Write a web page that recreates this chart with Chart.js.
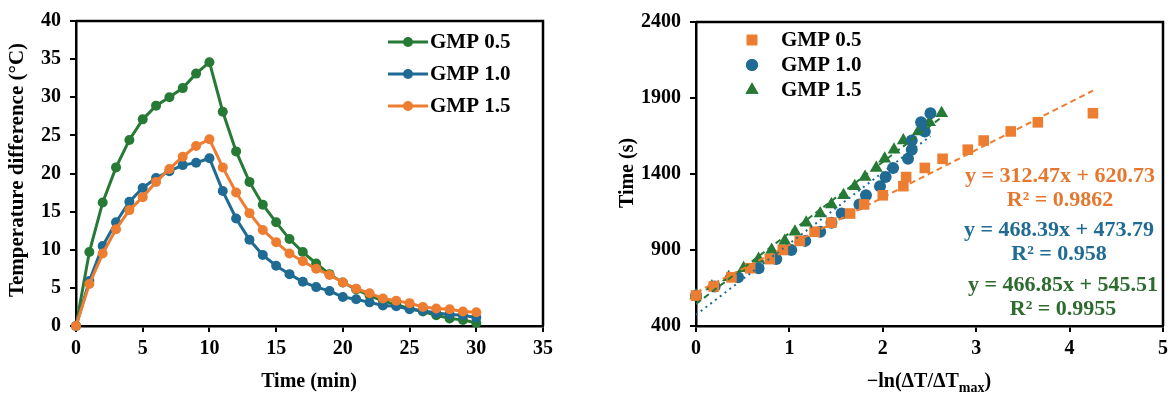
<!DOCTYPE html>
<html lang="en">
<head>
  <meta charset="UTF-8" />
  <title>GMP temperature difference</title>
  <script src="https://cdn.jsdelivr.net/npm/chart.js"></script>
  <style>
    body { margin: 0; background: #fff; }
    .wrap { position: relative; width: 1173px; height: 394px; }
    canvas { position: absolute; top: 0; }
    #leftChart { left: 0; }
    #rightChart { left: 580px; }
  </style>
</head>
<body>
  <div class="wrap">
    <canvas id="leftChart" width="580" height="394"></canvas>
    <canvas id="rightChart" width="593" height="394"></canvas>
  </div>

  <script>
    // left panel: temperature difference vs time
    const minutes = [0,1,2,3,4,5,6,7,8,9,10,11,12,13,14,15,16,17,18,19,20,21,22,23,24,25,26,27,28,29,30];
    const gmp05Temp = [0,9.7,16.2,20.8,24.4,27.1,28.9,30.0,31.2,33.1,34.6,28.1,22.9,18.9,15.9,13.6,11.4,9.7,8.2,6.8,5.7,4.8,4.0,3.3,2.8,2.3,1.9,1.4,1.0,0.8,0.4];
    const gmp10Temp = [0,5.9,10.5,13.6,16.3,18.1,19.4,20.3,21.1,21.4,22.0,17.7,14.1,11.3,9.3,7.9,6.8,5.8,5.1,4.6,3.8,3.5,3.1,2.7,2.6,2.2,2.0,1.7,1.5,1.4,1.1];
    const gmp15Temp = [0,5.5,9.5,12.7,15.2,16.9,18.9,20.6,22.2,23.6,24.5,20.8,17.5,14.8,12.6,11.0,9.5,8.5,7.5,6.7,5.7,4.9,4.3,3.6,3.3,3.0,2.5,2.3,2.2,1.9,1.8];

    // right panel: time vs -ln(dT/dTmax)
    const timeSec = [600,660,720,780,840,900,960,1020,1080,1140,1200,1260,1320,1380,1440,1500,1560,1620,1680,1740,1800];
    const gmp05Ln = [0,0.19,0.38,0.58,0.79,0.93,1.11,1.27,1.45,1.65,1.80,2.0,2.22,2.25,2.45,2.64,2.91,3.08,3.37,3.66,4.25];
    const gmp10Ln = [0,0.2,0.45,0.67,0.86,1.02,1.17,1.33,1.45,1.56,1.75,1.82,1.97,2.03,2.11,2.27,2.31,2.31,2.45,2.41,2.51];
    const gmp15Ln = [0,0.17,0.35,0.51,0.67,0.81,0.95,1.06,1.18,1.33,1.45,1.58,1.70,1.81,1.93,2.02,2.12,2.22,2.38,2.50,2.63];

    // trendline end points
    const fit05X = [0, 4.25], fit05Y = [620.7, 1948.7];
    const fit10X = [0, 2.51], fit10Y = [473.8, 1649.4];
    const fit15X = [0, 2.63], fit15Y = [545.5, 1773.3];

    const seriesNames = ['GMP 0.5', 'GMP 1.0', 'GMP 1.5'];
    const eqLines = [
      ['y = 312.47x + 620.73', 'R² = 0.9862'],
      ['y = 468.39x + 473.79', 'R² = 0.958'],
      ['y = 466.85x + 545.51', 'R² = 0.9955']
    ];

    const GREEN = '#267a35';
    const BLUE = '#1f6b93';
    const ORANGE = '#ed7d31';
    const SERIF = '"Liberation Serif", "Times New Roman", serif';
    const tickFont = { family: SERIF, size: 20, weight: 'bold' };

    const toXY = (xs, ys) => xs.map((x, i) => ({ x: x, y: ys[i] }));

    function axisCfg(min, max, step, fitKey, fitVal, pad) {
      return {
        type: 'linear', min: min, max: max,
        ticks: { stepSize: step, font: tickFont, color: '#000', padding: pad, callback: v => String(v) },
        grid: { display: true, drawOnChartArea: false, drawTicks: true, tickLength: 6, color: '#000', lineWidth: 2 },
        border: { display: true, color: '#000', width: 2.5 },
        afterFit: s => { s[fitKey] = fitVal; }
      };
    }

    const frame = {
      id: 'frame',
      afterDraw(chart) {
        const { ctx, chartArea: a } = chart;
        ctx.save();
        ctx.strokeStyle = '#000';
        ctx.lineWidth = 2.5;
        ctx.beginPath();
        ctx.moveTo(a.left, a.top);
        ctx.lineTo(a.right, a.top);
        ctx.lineTo(a.right, a.bottom);
        ctx.stroke();
        ctx.restore();
      }
    };

    // ---------- left chart ----------
    const leftLabels = {
      id: 'leftLabels',
      afterDraw(chart) {
        const ctx = chart.ctx;
        ctx.save();
        ctx.fillStyle = '#000';
        ctx.font = 'bold 20px ' + SERIF;
        ctx.textAlign = 'center';
        ctx.textBaseline = 'middle';
        ctx.fillText('Time (min)', 309, 382);
        ctx.translate(18, 170);
        ctx.rotate(-Math.PI / 2);
        ctx.font = 'bold 21px ' + SERIF;
        ctx.fillText('Temperature difference (°C)', 0, 0);
        ctx.restore();

        // legend
        const cols = [GREEN, BLUE, ORANGE];
        ctx.save();
        ctx.font = 'bold 21px ' + SERIF;
        ctx.textBaseline = 'middle';
        cols.forEach((c, i) => {
          const y = 42 + i * 32;
          ctx.strokeStyle = c;
          ctx.lineWidth = 3;
          ctx.beginPath();
          ctx.moveTo(388, y);
          ctx.lineTo(428, y);
          ctx.stroke();
          ctx.fillStyle = c;
          ctx.beginPath();
          ctx.arc(408, y, 5, 0, Math.PI * 2);
          ctx.fill();
          ctx.fillStyle = '#000';
          ctx.fillText(seriesNames[i], 430, y + 1);
        });
        ctx.restore();
      }
    };

    function lineSet(label, data, color, order) {
      return {
        label: label, data: data, borderColor: color, backgroundColor: color,
        borderWidth: 3, pointRadius: 5, pointHoverRadius: 5, pointBorderWidth: 0,
        tension: 0, clip: false, order: order
      };
    }

    new Chart(document.getElementById('leftChart'), {
      type: 'line',
      data: {
        datasets: [
          lineSet(seriesNames[0], toXY(minutes, gmp05Temp), GREEN, 3),
          lineSet(seriesNames[1], toXY(minutes, gmp10Temp), BLUE, 2),
          lineSet(seriesNames[2], toXY(minutes, gmp15Temp), ORANGE, 1)
        ]
      },
      options: {
        responsive: false, animation: false,
        layout: { padding: { left: 0, right: 37, top: 20, bottom: 0 } },
        plugins: { legend: { display: false }, tooltip: { enabled: false } },
        scales: {
          x: axisCfg(0, 35, 5, 'height', 68, 5),
          y: axisCfg(0, 40, 5, 'width', 76, 9)
        }
      },
      plugins: [frame, leftLabels]
    });

    // ---------- right chart ----------
    const rightLabels = {
      id: 'rightLabels',
      afterDraw(chart) {
        const ctx = chart.ctx;
        ctx.save();
        ctx.fillStyle = '#000';
        ctx.textBaseline = 'middle';
        // x title with subscript
        const main = '\u2212ln(\u0394T/\u0394T';
        ctx.font = 'bold 20px ' + SERIF;
        const w1 = ctx.measureText(main).width;
        const w3 = ctx.measureText(')').width;
        ctx.font = 'bold 14px ' + SERIF;
        const w2 = ctx.measureText('max').width;
        let x = 349 - (w1 + w2 + w3) / 2;
        ctx.font = 'bold 20px ' + SERIF;
        ctx.textAlign = 'left';
        ctx.fillText(main, x, 382);
        ctx.font = 'bold 14px ' + SERIF;
        ctx.fillText('max', x + w1, 388);
        ctx.font = 'bold 20px ' + SERIF;
        ctx.fillText(')', x + w1 + w2, 382);
        // y title
        ctx.translate(48, 173);
        ctx.rotate(-Math.PI / 2);
        ctx.textAlign = 'center';
        ctx.fillText('Time (s)', 0, 0);
        ctx.restore();

        // legend
        const styles = [
          { c: ORANGE, s: 'rect' }, { c: BLUE, s: 'circle' }, { c: GREEN, s: 'triangle' }
        ];
        ctx.save();
        ctx.font = 'bold 21px ' + SERIF;
        ctx.textBaseline = 'middle';
        styles.forEach((st, i) => {
          const y = 40 + i * 25;
          ctx.fillStyle = st.c;
          ctx.strokeStyle = st.c;
          Chart.helpers.drawPoint(ctx, { pointStyle: st.s, radius: st.s === 'circle' ? 6 : 7.5, borderWidth: 0 }, 172, y);
          ctx.fill();
          ctx.fillStyle = '#000';
          ctx.fillText(seriesNames[i], 201, y + 1);
        });
        ctx.restore();

        // trendline equations
        const eqCols = ['#e5772f', '#1f6b93', '#2e6b2e'];
        const eqX = [480, 479, 483];
        const eqY = [176, 230, 285];
        ctx.save();
        ctx.font = 'bold 22px ' + SERIF;
        ctx.textAlign = 'center';
        ctx.textBaseline = 'middle';
        eqLines.forEach((lines, i) => {
          ctx.fillStyle = eqCols[i];
          ctx.fillText(lines[0], eqX[i], eqY[i]);
          ctx.fillText(lines[1], eqX[i], eqY[i] + 24);
        });
        ctx.restore();
      }
    };

    function dotSet(label, data, color, style, r) {
      return {
        type: 'scatter', label: label, data: data,
        backgroundColor: color, borderColor: color, borderWidth: 0,
        pointStyle: style, pointRadius: r, pointHoverRadius: r, clip: false
      };
    }
    function fitSet(data, color, dash) {
      return {
        type: 'line', data: data, borderColor: color, borderWidth: 2,
        borderDash: dash, pointRadius: 0, tension: 0, fill: false
      };
    }

    new Chart(document.getElementById('rightChart'), {
      type: 'scatter',
      data: {
        datasets: [
          fitSet(toXY(fit05X, fit05Y), ORANGE, [6, 4]),
          fitSet(toXY(fit10X, fit10Y), BLUE, [2, 4]),
          fitSet(toXY(fit15X, fit15Y), GREEN, [6, 4]),
          dotSet(seriesNames[0], toXY(gmp05Ln, timeSec), ORANGE, 'rect', 7.5),
          dotSet(seriesNames[1], toXY(gmp10Ln, timeSec), BLUE, 'circle', 6),
          dotSet(seriesNames[2], toXY(gmp15Ln, timeSec), GREEN, 'triangle', 7.5)
        ]
      },
      options: {
        responsive: false, animation: false,
        layout: { padding: { left: 0, right: 10, top: 22, bottom: 0 } },
        plugins: { legend: { display: false }, tooltip: { enabled: false } },
        scales: {
          x: axisCfg(0, 5, 1, 'height', 68, 5),
          y: axisCfg(400, 2400, 500, 'width', 116, 9)
        }
      },
      plugins: [frame, rightLabels]
    });
  </script>
</body>
</html>
